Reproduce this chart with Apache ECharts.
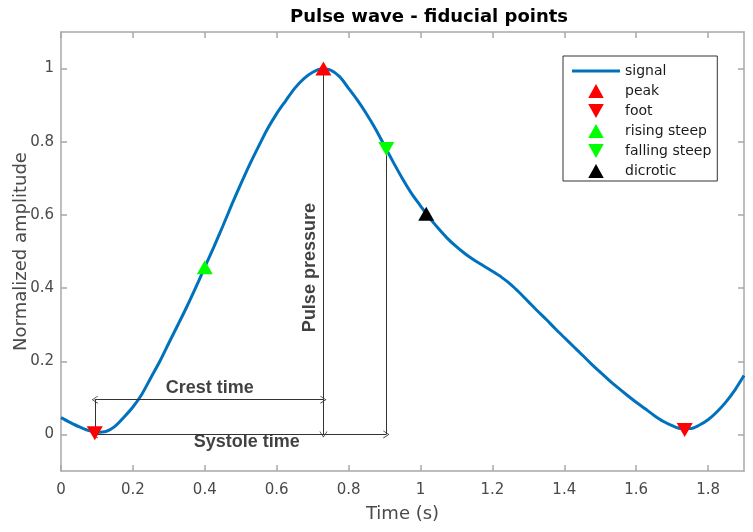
<!DOCTYPE html>
<html>
<head>
    <meta charset="UTF-8"/>
    <script type="text/javascript" src="https://cdn.jsdelivr.net/npm/echarts@6/dist/echarts.min.js"></script>
    <title>Pulse wave - fiducial points</title>
    <style>
        html, body { margin: 0; padding: 0; background: #fff; }
        #main { width: 753px; height: 532px; }
    </style>
</head>
<body>
<div id="main"></div>
<script type="text/javascript">
    // signal, one value every 0.025 s
    var sigT = []
    for (var k = 0; k <= 76; k++) sigT.push(+(k * 0.025).toFixed(3))
    var sigV = [
        0.046, 0.033, 0.021, 0.011, 0.006, 0.008, 0.022, 0.047, 0.075, 0.11,
        0.155, 0.2, 0.25, 0.299, 0.349, 0.402, 0.457, 0.512, 0.569, 0.628,
        0.684, 0.738, 0.788, 0.836, 0.877, 0.912, 0.946, 0.972, 0.99, 0.999,
        0.996, 0.978, 0.946, 0.913, 0.876, 0.835, 0.789, 0.743, 0.699, 0.659,
        0.625, 0.592, 0.563, 0.536, 0.513, 0.493, 0.476, 0.461, 0.446, 0.43,
        0.411, 0.388, 0.363, 0.338, 0.314, 0.289, 0.265, 0.241, 0.217, 0.193,
        0.17, 0.148, 0.127, 0.107, 0.088, 0.07, 0.052, 0.036, 0.024, 0.016,
        0.016, 0.025, 0.04, 0.062, 0.089, 0.122, 0.161
    ]

    // fiducial points
    var peakPts = [[0.73, 1.0]]
    var footPts = [[0.094, 0.003], [1.735, 0.012]]
    var risingPts = [[0.4, 0.457]]
    var fallingPts = [[0.905, 0.78]]
    var dicroticPts = [[1.016, 0.603]]

    var tickX = [0, 0.2, 0.4, 0.6, 0.8, 1, 1.2, 1.4, 1.6, 1.8]
    var tickY = [0, 0.2, 0.4, 0.6, 0.8, 1]

    // annotation lines: [from, to, arrow at start, arrow at end]
    var crestY = 0.095
    var annoLines = [
        [[0.094, 0], [0.094, crestY], false, false],
        [[0.094, crestY], [0.73, crestY], true, true],
        [[0.73, 0], [0.73, 1.0], true, true],
        [[0.094, 0], [0.905, 0], true, true],
        [[0.905, 0], [0.905, 0.78], false, false]
    ]
    var annoText = [
        {name: 'Crest time', value: [0.414, 0.126], rot: 0},
        {name: 'Systole time', value: [0.517, -0.021], rot: 0},
        {name: 'Pulse pressure', value: [0.692, 0.456], rot: 90}
    ]

    var axisGray = '#a8a8a8'
    var labelGray = '#4a4a4a'
    var chevron = 'path://M0,10 L5,0 L10,10 L9,10 L5,2 L1,10 Z'
    var triUp = 'path://M5,0 L10,9 L0,9 Z'
    var triDown = 'path://M0,0 L10,0 L5,9 Z'
    var lineIcon = 'path://M0,0 L48,0 L48,3 L0,3 Z'

    var sigData = sigT.map(function (t, i) { return [t, sigV[i]] })

    function markSeries(name, data, color, down) {
        return {
            name: name, type: 'scatter', data: data,
            symbol: 'triangle', symbolSize: [16, 14], symbolRotate: down ? 180 : 0,
            itemStyle: {color: color, opacity: 1}, silent: true, z: 5
        }
    }

    var lineData = annoLines.map(function (l) {
        return [
            {coord: l[0], symbol: l[2] ? chevron : 'none', symbolSize: [8, 6]},
            {coord: l[1], symbol: l[3] ? chevron : 'none', symbolSize: [8, 6]}
        ]
    })

    var tickStyle = {color: axisGray, width: 1.5}
    var baseAxisY = {
        type: 'value', min: -0.1, max: 1.1,
        axisLine: {show: true, onZero: false, lineStyle: tickStyle},
        splitLine: {show: false}
    }
    var baseAxisX = {
        type: 'value', min: 0, max: 1.9,
        axisLine: {show: true, onZero: false, lineStyle: tickStyle},
        splitLine: {show: false}
    }

    var option = {
        animation: false,
        backgroundColor: '#fff',
        title: {
            text: 'Pulse wave - fiducial points',
            left: 424, top: 3, textAlign: 'center',
            textStyle: {fontFamily: 'DejaVu Sans', fontSize: 18, fontWeight: 'bold', color: '#000'}
        },
        grid: {left: 61, right: 9, top: 32, bottom: 61, show: false, outerBoundsMode: 'none', containLabel: false},
        legend: {
            orient: 'vertical', left: 563, top: 56,
            data: [
                {name: 'signal', icon: lineIcon},
                {name: 'peak', icon: triUp},
                {name: 'foot', icon: triDown},
                {name: 'rising steep', icon: triUp},
                {name: 'falling steep', icon: triDown},
                {name: 'dicrotic', icon: triUp}
            ],
            symbolKeepAspect: true,
            itemWidth: 48, itemHeight: 14, itemGap: 6, itemTextGap: 5,
            padding: [8, 6, 3, 9],
            borderColor: '#333', borderWidth: 1, backgroundColor: '#fff',
            textStyle: {fontFamily: 'DejaVu Sans', fontSize: 14, color: '#1a1a1a'},
            selectedMode: false
        },
        xAxis: [
            Object.assign({}, baseAxisX, {
                position: 'bottom',
                name: 'Time (s)', nameLocation: 'middle', nameGap: 34,
                nameTextStyle: {fontFamily: 'DejaVu Sans', fontSize: 18, color: labelGray},
                axisTick: {show: true, inside: true, length: 6, customValues: tickX, lineStyle: tickStyle},
                axisLabel: {customValues: tickX, margin: 12, fontFamily: 'DejaVu Sans', fontSize: 15, color: labelGray}
            }),
            Object.assign({}, baseAxisX, {
                position: 'top',
                axisTick: {show: true, inside: true, length: 6, customValues: tickX, lineStyle: tickStyle},
                axisLabel: {show: false}
            })
        ],
        yAxis: [
            Object.assign({}, baseAxisY, {
                position: 'left',
                name: 'Normalized amplitude', nameLocation: 'middle', nameGap: 31, nameMoveOverlap: false,
                nameTextStyle: {fontFamily: 'DejaVu Sans', fontSize: 18, color: labelGray},
                axisTick: {show: true, inside: true, length: 6, customValues: tickY, lineStyle: tickStyle},
                axisLabel: {customValues: tickY, margin: 7, fontFamily: 'DejaVu Sans', fontSize: 15, color: labelGray}
            }),
            Object.assign({}, baseAxisY, {
                position: 'right',
                axisTick: {show: true, inside: true, length: 6, customValues: tickY, lineStyle: tickStyle},
                axisLabel: {show: false}
            })
        ],
        series: [
            {
                name: 'signal', type: 'line', data: sigData, smooth: 0.3,
                symbol: 'none', lineStyle: {color: '#0072BD', width: 3}, itemStyle: {color: '#0072BD'},
                silent: true, z: 3
            },
            {
                name: 'annotations', type: 'scatter', symbolSize: 0, silent: true, z: 4,
                data: annoText.map(function (a) {
                    return {name: a.name, value: a.value, label: {rotate: a.rot}}
                }),
                label: {
                    show: true, position: 'inside', formatter: '{b}',
                    fontFamily: 'Liberation Sans', fontWeight: 'bold', fontSize: 18, color: '#111'
                },
                markLine: {
                    silent: true, animation: false,
                    label: {show: false},
                    lineStyle: {color: '#333', width: 1, type: 'solid'},
                    emphasis: {disabled: true},
                    data: lineData
                }
            },
            markSeries('peak', peakPts, '#ff0000', false),
            markSeries('foot', footPts, '#ff0000', true),
            markSeries('rising steep', risingPts, '#00ff00', false),
            markSeries('falling steep', fallingPts, '#00ff00', true),
            markSeries('dicrotic', dicroticPts, '#000000', false)
        ]
    }

    var myChart = echarts.init(document.getElementById('main'))
    myChart.setOption(option)
</script>
</body>
</html>
